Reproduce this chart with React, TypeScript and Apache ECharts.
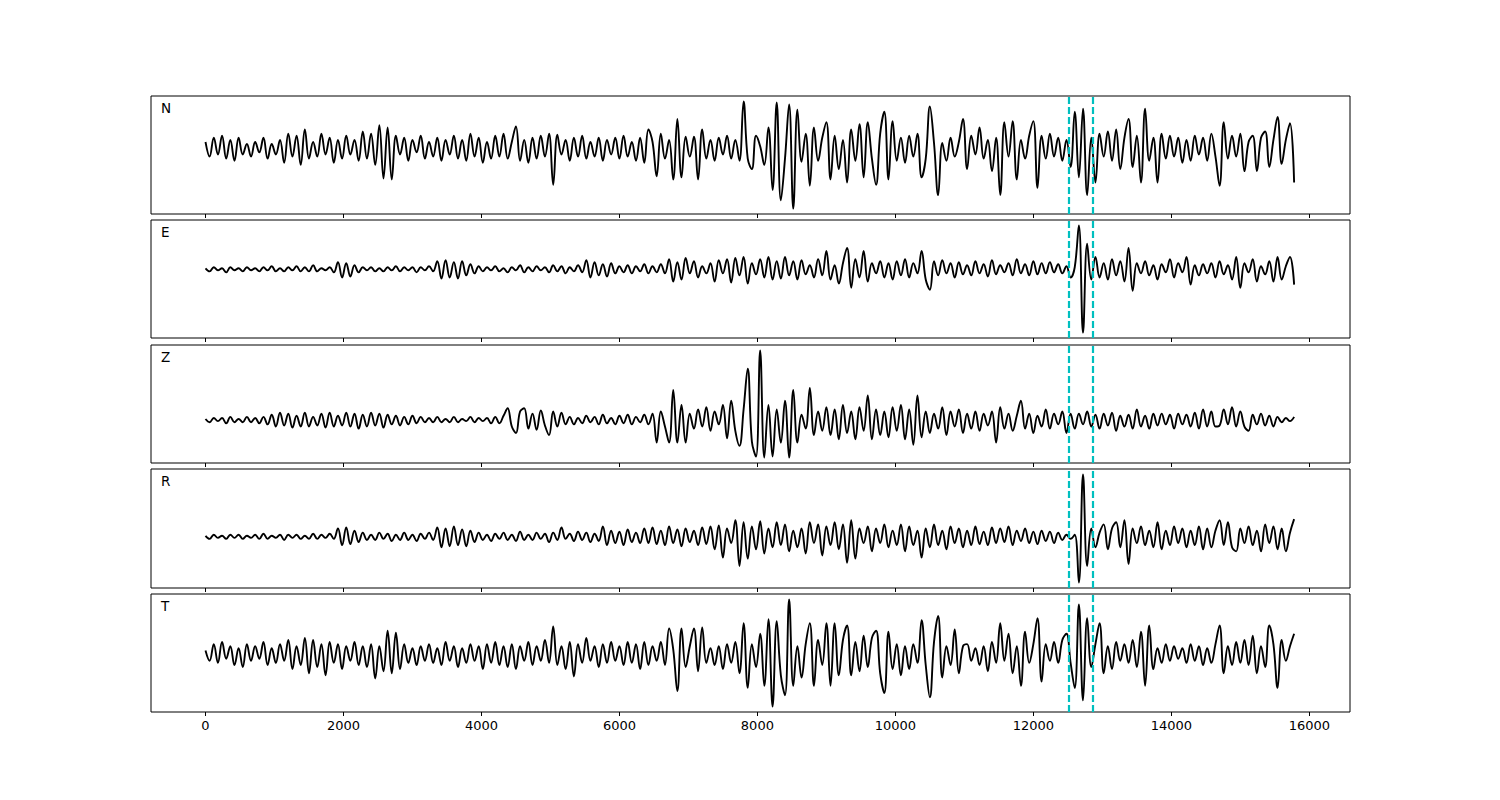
import React, { useEffect, useRef } from "react";
import * as echarts from "echarts";

// sample spacing (x units) of the traces below
const STEP = 60;
const channels = ["N", "E", "Z", "R", "T"];
const pickTimes = [12510, 12860];
const xTicks = [0, 2000, 4000, 6000, 8000, 10000, 12000, 14000, 16000];

const traceN = [
  6, -8, 10, -6, 12, -10, 8, -12, 10, -6,
  4, -8, 6, -4, 10, -10, 4, -6, 8, -14,
  14, -8, 12, -16, 18, -10, 6, -8, 14, -6,
  10, -14, 8, -10, 12, -6, 8, -12, 16, -10,
  14, -16, 22, -29, 20, -30, 12, -6, 10, -12,
  8, -4, 12, -10, 6, -8, 10, -12, 8, -6,
  12, -10, 8, -12, 14, -8, 10, -14, 6, -10,
  12, -8, 14, -10, 6, 21, -12, 8, -14, 10,
  -10, 12, -8, 14, -35, 13, -6, 8, -12, 10,
  -8, 12, -10, 6, -8, 10, -12, 8, -6, 10,
  -10, 12, -8, 6, -12, 10, -14, 18, 6, -27,
  14, -10, 8, -30, 28, -28, 11, -8, 11, -30,
  18, -10, 8, -12, 10, -6, 12, -10, 8, -12,
  45, -10, -20, 12, 2, -16, 20, -40, 44, -50,
  -10, 42, -58, 37, -13, 14, -36, 20, -12, 10,
  25, -30, 12, -20, 8, -33, 18, -12, 23, -28,
  25, -10, -35, 14, 35, -30, 26, -12, 10, -14,
  12, -8, 14, -28, -10, 40, 5, -45, 5, -12,
  10, -8, 6, 28, -20, 12, -6, 20, -10, 8,
  -22, 10, -45, 25, -8, 26, -30, 8, -10, 12,
  26, -38, 12, -10, 14, -8, 10, -12, 8, -18,
  35, -28, 38, -45, 10, -33, 14, -8, 16, -12,
  18, -20, 10, 28, -18, 12, -33, 38, -12, 10,
  -33, 14, -10, 12, -8, 10, -14, 8, -12, 12,
  -6, 10, -12, 14, -8, -36, 25, -10, 12, -8,
  14, -22, 6, 12, -22, 10, 16, -18, 8, 30,
  -15, 8, 24, -33,
];

const traceE = [
  1, -2, 2, -1, 1, -3, 2, -1, 1, -2,
  2, -1, 1, -2, 2, -1, 3, -2, 1, -2,
  2, -1, 3, -2, 2, -2, 4, -2, 1, -1,
  2, -3, 7, -8, 6, -7, 4, -3, 2, -1,
  2, -2, 1, -2, 2, -1, 3, -2, 2, -1,
  2, -3, 2, -1, 3, -2, 8, -9, 9, -8,
  7, -9, 8, -6, 5, -4, 3, -2, 2, -1,
  3, -2, 1, -3, 2, -1, 4, -3, 2, -2,
  3, -1, 2, -3, 4, -2, 3, -4, 2, -2,
  4, -3, 9, -8, 7, -6, 5, -7, 6, -4,
  3, -3, 4, -4, 3, -2, 5, -4, 3, -3,
  5, -4, 10, -12, 7, -10, 11, -4, 8, -8,
  3, -4, 6, -12, 9, -4, 10, -13, 11, -6,
  12, -14, 6, -5, 10, -8, 12, -10, 8, -9,
  12, -6, 8, -10, 9, -5, 4, -8, 10, -6,
  18, -10, 4, -14, 6, 21, -18, 10, -8, 18,
  -12, 6, -4, 8, -8, 6, -10, 8, -6, 10,
  -8, 6, -4, 18, -10, -20, 8, -6, 9, -4,
  6, -8, 7, -5, 4, -6, 8, -4, 5, -7,
  9, -5, 4, -3, 6, -6, 10, -4, 5, -6,
  8, -5, 6, -4, 7, -3, 5, -4, 3, -8,
  2, 43, -62, 25, -10, 12, -8, 6, -10, 10,
  -6, 8, -12, 21, -21, 6, -4, 8, -6, 4,
  -10, 5, -3, 10, -8, 6, -3, 12, -15, 4,
  -6, 5, -4, 6, -8, 8, -5, 4, -10, 12,
  -18, 6, -3, 10, -12, 3, -5, 8, -12, 12,
  -10, 3, 12, -15,
];

const traceZ = [
  1, -2, 2, -1, 2, -3, 3, -2, 1, -2,
  3, -2, 2, -3, 3, -4, 5, -6, 7, -5,
  6, -7, 4, -6, 7, -6, 3, -5, 6, -7,
  7, -6, 4, -5, 7, -6, 6, -8, 5, -6,
  7, -5, 6, -7, 5, -4, 4, -5, 3, -4,
  4, -3, 3, -2, 2, -2, 3, -2, 1, -2,
  3, -2, 1, -1, 3, -2, 2, -1, 2, -3,
  3, -3, 4, 11, -6, -12, 8, 11, -8, 6,
  -9, 9, -5, -14, 8, -6, 7, -4, 3, -4,
  2, -3, 4, -2, 3, -4, 5, -3, 2, -4,
  4, -3, 5, -4, 3, -2, 5, -4, 6, -21,
  8, -6, -21, 28, -21, 14, -21, 6, -8, 10,
  -6, 12, -10, 8, -4, 14, -17, 18, -10, -24,
  10, 48, -20, -34, 65, -35, 14, -34, 10, -21,
  18, -35, 28, -21, 5, -8, 30, -14, 8, -10,
  12, -14, 10, -18, 14, -12, 8, -18, 12, -10,
  23, -18, 10, -14, 8, -16, 12, -10, 14, -18,
  10, -23, 23, -16, 8, -12, 6, -8, 12, -14,
  8, -6, 10, -12, 6, -8, 8, -10, 6, -5,
  8, -21, 12, -8, 6, -10, 4, 18, -8, 6,
  -12, 4, -6, 10, -8, 6, -4, 8, -12, 6,
  -8, 6, -4, 8, -6, 5, -8, 6, -5, 7,
  -10, 4, -6, 5, -8, 10, -6, 4, -8, 6,
  -5, 6, -4, 5, -8, 6, -4, 5, -6, 7,
  -8, 10, -6, 8, -6, -5, 10, -4, 12, -6,
  8, -6, -10, 5, -4, 6, -5, 4, -6, 3,
  -2, 2, -1, 3,
];

const traceR = [
  1, -2, 2, -1, 1, -2, 2, -1, 2, -2,
  1, -1, 2, -2, 3, -2, 1, -1, 2, -3,
  2, -1, 2, -2, 1, -2, 3, -2, 2, -1,
  3, -2, 8, -8, 9, -7, 6, -5, 4, -3,
  2, -3, 4, -2, 3, -4, 2, -3, 4, -3,
  2, -4, 3, -2, 4, -3, 9, -10, 8, -9,
  10, -8, 7, -9, 6, -5, 4, -3, 2, -4,
  3, -2, 4, -3, 2, -4, 5, -3, 2, -3,
  4, -2, 3, -5, 4, -3, 9, -2, 3, -4,
  5, -3, 4, -5, 3, -4, 10, -8, 6, -6,
  5, -8, 7, -5, 4, -6, 8, -6, 9, -7,
  6, -8, 10, -6, 7, -9, 8, -5, 6, -8,
  9, -7, 10, -12, 11, -20, 8, -6, 16, -28,
  14, -21, 10, -12, 15, -16, 8, -10, 14, -8,
  12, -14, 6, -10, 8, -16, 14, -6, 12, -18,
  10, -8, 14, -12, 12, -25, 16, -21, 8, -6,
  10, -14, 8, -6, 12, -10, 6, -8, 12, -14,
  10, -8, 6, -20, 8, -10, 12, -8, 6, -12,
  10, -6, 8, -10, 6, -8, 10, -7, 5, -8,
  9, -6, 8, -5, 10, -8, 6, -4, 8, -6,
  5, -7, 6, -4, 5, -6, 4, -3, 2, -2,
  2, -44, 60, -28, 8, -10, 4, 12, -12, 8,
  14, -10, 16, -26, 8, -6, 10, -8, 6, -10,
  14, -12, 6, -8, 10, -6, 8, -10, 6, -8,
  10, -12, 8, -10, 6, 16, -8, 14, -10, -14,
  8, -6, 10, -8, 6, -14, 12, -6, 10, -12,
  8, -14, 4, 17,
];

const traceT = [
  4, -6, 10, -8, 12, -4, 8, -10, 6, -12,
  10, -6, 8, -4, 12, -10, 6, -8, 10, -6,
  14, -14, 8, -10, 16, -18, 14, -12, 10, -20,
  12, -8, 10, -14, 8, -6, 12, -10, 8, -12,
  10, -23, 8, -16, 23, -18, 21, -14, 10, -8,
  6, -10, 8, -6, 10, -8, 6, -10, 12, -6,
  8, -12, 6, -8, 10, -6, 8, -14, 10, -8,
  12, -10, 8, -12, 10, -14, 8, -6, 12, -10,
  8, -6, 14, -8, 27, -10, 8, -14, 12, -21,
  10, -8, 16, -6, 8, -12, 10, -8, 12, -6,
  8, -10, 12, -8, 10, -14, 12, -10, 8, -6,
  12, -10, 25, 5, -35, 25, -12, 8, 25, -16,
  26, -8, 6, -10, 8, -14, 10, -8, 12, -18,
  30, -32, 10, -12, 20, -30, 34, -50, 32, -20,
  -39, 53, -30, 8, -22, 10, 30, -30, 14, -10,
  30, -30, 30, -20, 14, 28, -20, 12, -16, 18,
  -12, 16, 23, -18, -37, 22, -14, 10, -20, 8,
  -14, 10, -8, 33, -10, -41, 12, 37, -22, 8,
  -10, 24, -18, 8, 10, -6, 6, -10, 8, -16,
  12, -8, 30, -6, 20, -18, 8, -30, 22, -8,
  10, 35, -26, 10, -6, 12, -8, 14, 20, -8,
  -32, 48, -44, 35, -12, 10, 30, -18, 8, -14,
  12, -6, 10, -8, 14, -12, 22, -30, 28, -14,
  6, -8, 10, -6, 8, -4, 6, -8, 10, -6,
  8, -10, 6, -8, 10, 28, -18, 8, -10, 12,
  -8, 14, -10, 18, -18, 8, -12, 28, 10, -32,
  14, -6, 8, 20,
];

const traces = [traceN, traceE, traceZ, traceR, traceT];
const gridTops = [96, 220, 345, 469, 594];
const gridHeights = [118, 118, 118, 119, 118];

export default function App() {
  const ref = useRef<HTMLDivElement>(null);
  useEffect(() => {
    if (!ref.current) return;
    const chart = echarts.init(ref.current, undefined, { renderer: "svg" });
    const n = traces.length;
    const option: any = {
      animation: false,
      backgroundColor: "#fff",
      textStyle: { fontFamily: "DejaVu Sans" },
      grid: gridTops.map((t, i) => ({
        left: 151,
        right: 150,
        top: t,
        height: gridHeights[i],
        show: true,
        borderColor: "#000",
        borderWidth: 1,
        backgroundColor: "transparent",
      })),
      xAxis: traces.map((_, i) => ({
        type: "value",
        gridIndex: i,
        position: "bottom",
        min: -790,
        max: 16590,
        axisLine: { show: false, onZero: false },
        splitLine: { show: false },
        axisTick: {
          show: true,
          customValues: xTicks,
          length: 4,
          lineStyle: { color: "#000", width: 1 },
        },
        axisLabel: {
          show: i === n - 1,
          customValues: xTicks,
          formatter: (v: number) => String(v),
          color: "#000",
          fontSize: 13,
          fontFamily: "DejaVu Sans",
          margin: 7,
        },
      })),
      yAxis: traces.map((_, i) => ({
        type: "value",
        gridIndex: i,
        scale: true,
        min: (v: any) => v.min - (v.max - v.min) * 0.05,
        max: (v: any) => v.max + (v.max - v.min) * 0.05,
        axisLine: { show: false, onZero: false },
        axisTick: { show: false },
        axisLabel: { show: false },
        splitLine: { show: false },
      })),
      series: traces.map((tr, i) => ({
        type: "line",
        xAxisIndex: i,
        yAxisIndex: i,
        data: tr.map((v, k) => [k * STEP, v]),
        showSymbol: false,
        smooth: 0.4,
        lineStyle: { color: "#000", width: 1.9 },
        z: 3,
        markLine: {
          silent: true,
          symbol: ["none", "none"],
          label: { show: false },
          lineStyle: { color: "#00bfbf", width: 2.2, type: [7, 3] },
          data: pickTimes.map((t) => ({ xAxis: t })),
          z: 4,
        },
      })),
      graphic: channels.map((c, i) => ({
        type: "text",
        left: 161,
        top: gridTops[i] + 5,
        style: {
          text: c,
          fill: "#000",
          font: "13.5px 'DejaVu Sans'",
        },
      })),
    };
    chart.setOption(option);
    return () => chart.dispose();
  }, []);
  return (
    <div
      ref={ref}
      style={{ position: "fixed", left: 0, top: 0, width: 1500, height: 800 }}
    />
  );
}
